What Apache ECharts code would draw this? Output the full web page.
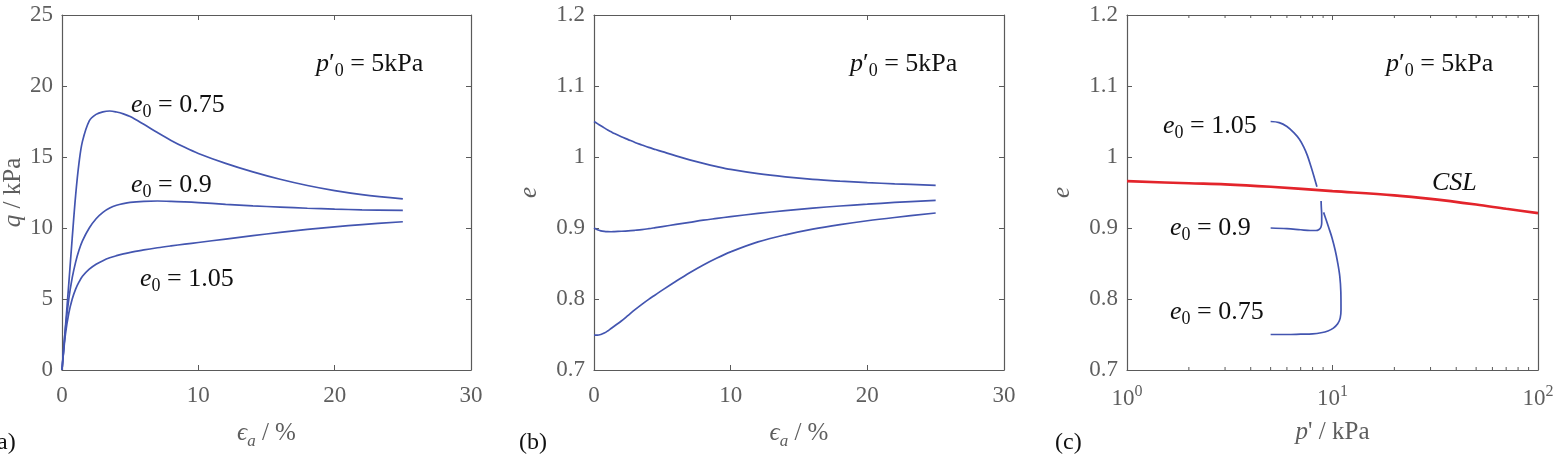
<!DOCTYPE html>
<html>
<head>
<meta charset="utf-8">
<script src="https://cdn.jsdelivr.net/npm/echarts@6/dist/echarts.min.js"></script>
<style>
  html, body { margin: 0; padding: 0; background: #fff; }
  #chart { width: 1558px; height: 456px; }
</style>
</head>
<body>
<div id="chart"></div>
<script>
// axial strain (%) shared by panels (a) and (b)
var strain = [0, 0.25, 0.5, 0.75, 1, 1.25, 1.5, 2, 2.5, 3, 3.5, 4, 4.5, 5, 6, 7, 8, 9, 10, 12, 14, 16, 18, 20, 22, 25]

// (a) deviator stress q / kPa
var q075 = [0, 3.0, 6.1, 9.3, 12.3, 14.6, 16.1, 17.55, 18.0, 18.18, 18.24, 18.17, 18.04, 17.85, 17.3, 16.72, 16.17, 15.68, 15.25, 14.55, 13.95, 13.43, 12.99, 12.63, 12.35, 12.05]
var q09 = [0, 2.9, 5.0, 6.5, 7.6, 8.45, 9.1, 10.0, 10.65, 11.1, 11.4, 11.6, 11.72, 11.8, 11.87, 11.9, 11.88, 11.84, 11.79, 11.67, 11.56, 11.47, 11.39, 11.33, 11.28, 11.24]
var q105 = [0, 2.5, 4.0, 5.0, 5.7, 6.2, 6.6, 7.1, 7.45, 7.7, 7.9, 8.05, 8.18, 8.28, 8.46, 8.61, 8.74, 8.86, 8.98, 9.22, 9.46, 9.69, 9.9, 10.08, 10.24, 10.44]

// (b) void ratio e
var e105 = [1.050, 1.047, 1.044, 1.041, 1.038, 1.0355, 1.033, 1.0285, 1.0245, 1.0205, 1.017, 1.0135, 1.0105, 1.0075, 1.0015, 0.996, 0.991, 0.9865, 0.9825, 0.9765, 0.972, 0.9685, 0.966, 0.964, 0.9622, 0.960]
var e09 = [0.900, 0.8975, 0.896, 0.8952, 0.8948, 0.8947, 0.8949, 0.8954, 0.896, 0.8968, 0.8977, 0.899, 0.9005, 0.902, 0.905, 0.908, 0.911, 0.9135, 0.916, 0.9205, 0.9245, 0.928, 0.931, 0.9335, 0.936, 0.939]
var e075 = [0.749, 0.749, 0.750, 0.752, 0.755, 0.7585, 0.762, 0.769, 0.777, 0.785, 0.7925, 0.7995, 0.806, 0.8125, 0.825, 0.837, 0.848, 0.8578, 0.8664, 0.8804, 0.8904, 0.8984, 0.9048, 0.9102, 0.9148, 0.9211]

// (c) e - p' paths and critical state line
var pPath105 = [5.0, 5.5, 6.0, 6.5, 6.9, 7.25, 7.55, 7.85, 8.1, 8.4]
var ePath105 = [1.050, 1.0485, 1.043, 1.034, 1.025, 1.014, 1.002, 0.987, 0.974, 0.958]
var pPath09 = [5.0, 6.0, 7.0, 7.8, 8.3, 8.6, 8.78, 8.86, 8.86, 8.82, 8.8]
var ePath09 = [0.900, 0.899, 0.8975, 0.8965, 0.8965, 0.898, 0.901, 0.907, 0.918, 0.930, 0.938]
var pPath075 = [5.0, 6.0, 7.0, 8.0, 8.8, 9.5, 10.1, 10.6, 10.9, 11.0, 10.98, 10.85, 10.6, 10.3, 9.95, 9.6, 9.3, 9.05]
var ePath075 = [0.750, 0.750, 0.7505, 0.751, 0.7525, 0.755, 0.759, 0.765, 0.773, 0.785, 0.81, 0.832, 0.851, 0.869, 0.886, 0.900, 0.912, 0.922]
var pCSL = [1, 2, 3, 5, 10, 20, 30, 50, 70, 100]
var eCSL = [0.966, 0.963, 0.9615, 0.958, 0.952, 0.946, 0.941, 0.933, 0.927, 0.921]

// log axis minor ticks
var minorTicks = [2, 3, 4, 5, 6, 7, 8, 9, 20, 30, 40, 50, 60, 70, 80, 90]

var FONT = 'Liberation Serif'
var BLUE = '#4355b0'
var RED = '#e3242b'
var AXIS = '#5a5a5a'
var LABEL = '#5e5e5e'
var TICK_FS = 23
var NAME_FS = 25
var ANN_FS = 26

function zip (xs, ys) {
  return xs.map(function (x, i) { return [x, ys[i]] })
}

function nameStyle () {
  return {
    fontFamily: FONT,
    fontSize: NAME_FS,
    color: LABEL,
    rich: {
      i: { fontFamily: FONT, fontStyle: 'italic', fontSize: NAME_FS, color: LABEL },
      n: { fontFamily: FONT, fontSize: NAME_FS, color: LABEL },
      sub: { fontFamily: FONT, fontStyle: 'italic', fontSize: 17, color: LABEL, padding: [16, 0, 0, 0] }
    }
  }
}

function xAx (grid, min, max, interval, name, top) {
  return {
    type: 'value',
    gridIndex: grid,
    position: top ? 'top' : 'bottom',
    min: min,
    max: max,
    interval: interval,
    name: top ? '' : name,
    nameLocation: 'middle',
    nameGap: 47,
    nameTextStyle: nameStyle(),
    axisLine: { show: true, onZero: false, lineStyle: { color: AXIS, width: 1.2 } },
    axisTick: { show: true, inside: true, length: 5, lineStyle: { color: AXIS } },
    axisLabel: { show: !top, margin: 14, fontFamily: FONT, fontSize: TICK_FS, color: LABEL },
    splitLine: { show: false }
  }
}

function yAx (grid, min, max, interval, name, gap, right) {
  return {
    type: 'value',
    gridIndex: grid,
    position: right ? 'right' : 'left',
    min: min,
    max: max,
    interval: interval,
    name: right ? '' : name,
    nameLocation: 'middle',
    nameGap: gap,
    nameTextStyle: nameStyle(),
    axisLine: { show: true, onZero: false, lineStyle: { color: AXIS, width: 1.2 } },
    axisTick: { show: true, inside: true, length: 5, lineStyle: { color: AXIS } },
    axisLabel: { show: !right, margin: 9, fontFamily: FONT, fontSize: TICK_FS, color: LABEL },
    splitLine: { show: false }
  }
}

function logAx (top) {
  return {
    type: 'log',
    logBase: 10,
    gridIndex: 2,
    position: top ? 'top' : 'bottom',
    min: 1,
    max: 100,
    name: top ? '' : '{i|p}{n|\' / kPa}',
    nameLocation: 'middle',
    nameGap: 50,
    nameTextStyle: nameStyle(),
    axisLine: { show: true, onZero: false, lineStyle: { color: AXIS, width: 1.2 } },
    axisTick: { show: true, inside: true, length: 5, lineStyle: { color: AXIS } },
    axisLabel: {
      show: !top,
      margin: 14,
      fontFamily: FONT,
      fontSize: TICK_FS,
      color: LABEL,
      formatter: function (v) {
        return '10{sup|' + Math.round(Math.log10(v)) + '}'
      },
      rich: { sup: { fontFamily: FONT, fontSize: 16, color: LABEL, padding: [0, 0, 14, 0] } }
    },
    splitLine: { show: false }
  }
}

function line (xi, yi, data, color, width) {
  return {
    type: 'line',
    xAxisIndex: xi,
    yAxisIndex: yi,
    data: data,
    showSymbol: false,
    smooth: 0.35,
    lineStyle: { color: color, width: width || 1.7 },
    z: 3
  }
}

var richAnn = {
  i: { fontFamily: FONT, fontStyle: 'italic', fontSize: ANN_FS, fill: '#111' },
  n: { fontFamily: FONT, fontSize: ANN_FS, fill: '#111' },
  s: { fontFamily: FONT, fontSize: 18, fill: '#111', padding: [14, 0, 0, 0] }
}
var p0Text = '{i|p}{n|\u2032}{s|0}{n| = 5kPa}'

function e0Text (v) {
  return '{i|e}{s|0}{n| = ' + v + '}'
}

function textEl (x, y, text) {
  return {
    type: 'text',
    x: x,
    y: y,
    style: {
      text: text,
      fill: '#111',
      fontFamily: FONT,
      fontSize: ANN_FS,
      verticalAlign: 'middle',
      rich: richAnn
    }
  }
}

function letterEl (x, text) {
  return {
    type: 'text',
    x: x,
    y: 443,
    style: { text: text, fill: '#111', fontFamily: FONT, fontSize: 24, verticalAlign: 'middle' }
  }
}

var option = {
  animation: false,
  backgroundColor: '#fff',
  grid: [
    { left: 61, top: 15, width: 410, height: 355 },
    { left: 594, top: 15, width: 410, height: 355 },
    { left: 1127, top: 15, width: 411, height: 355 }
  ],
  xAxis: [
    xAx(0, 0, 30, 10, '{i|\u03f5}{sub|a}{n| / %}'),
    xAx(0, 0, 30, 10, '', true),
    xAx(1, 0, 30, 10, '{i|\u03f5}{sub|a}{n| / %}'),
    xAx(1, 0, 30, 10, '', true),
    logAx(false),
    logAx(true)
  ],
  yAxis: [
    yAx(0, 0, 25, 5, '{i|q}{n| / kPa}', 36),
    yAx(0, 0, 25, 5, '', 0, true),
    yAx(1, 0.7, 1.2, 0.1, '{i|e}', 52),
    yAx(1, 0.7, 1.2, 0.1, '', 0, true),
    yAx(2, 0.7, 1.2, 0.1, '{i|e}', 52),
    yAx(2, 0.7, 1.2, 0.1, '', 0, true)
  ],
  series: [
    line(0, 0, zip(strain, q075), BLUE),
    line(0, 0, zip(strain, q09), BLUE),
    line(0, 0, zip(strain, q105), BLUE),
    line(2, 2, zip(strain, e105), BLUE),
    line(2, 2, zip(strain, e09), BLUE),
    line(2, 2, zip(strain, e075), BLUE),
    line(4, 4, zip(pCSL, eCSL), RED, 2.6),
    line(4, 4, zip(pPath105, ePath105), BLUE),
    line(4, 4, zip(pPath09, ePath09), BLUE),
    line(4, 4, zip(pPath075, ePath075), BLUE),
    {
      type: 'custom',
      xAxisIndex: 4,
      yAxisIndex: 4,
      data: minorTicks.map(function (v) { return [v] }),
      silent: true,
      renderItem: function (params, api) {
        var bot = api.coord([api.value(0), 0.7])
        var top = api.coord([api.value(0), 1.2])
        var st = { stroke: AXIS, lineWidth: 1 }
        return {
          type: 'group',
          children: [
            { type: 'line', shape: { x1: bot[0], y1: bot[1], x2: bot[0], y2: bot[1] - 3 }, style: st },
            { type: 'line', shape: { x1: top[0], y1: top[1], x2: top[0], y2: top[1] + 3 }, style: st }
          ]
        }
      }
    }
  ],
  graphic: [
    textEl(316, 64, p0Text),
    textEl(850, 64, p0Text),
    textEl(1386, 64, p0Text),
    textEl(131, 105, e0Text('0.75')),
    textEl(131, 185, e0Text('0.9')),
    textEl(140, 279, e0Text('1.05')),
    textEl(1163, 126, e0Text('1.05')),
    textEl(1170, 228, e0Text('0.9')),
    textEl(1170, 312, e0Text('0.75')),
    textEl(1432, 183, '{i|CSL}'),
    letterEl(-3, 'a)'),
    letterEl(519, '(b)'),
    letterEl(1055, '(c)')
  ]
}

var chart = echarts.init(document.getElementById('chart'))
chart.setOption(option)
</script>
</body>
</html>
